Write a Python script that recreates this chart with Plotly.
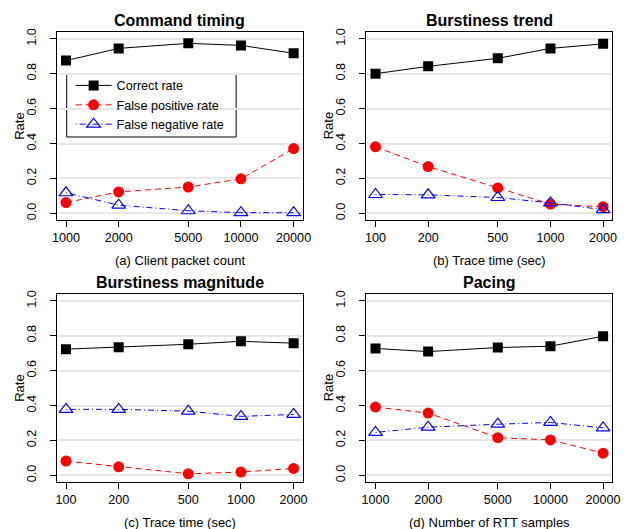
import plotly.graph_objects as go
import math

# ---- data ----
x_a = [1000, 2000, 5000, 10000, 20000]
a_correct = [0.875, 0.945, 0.974, 0.962, 0.917]
a_fp = [0.062, 0.123, 0.151, 0.198, 0.371]
a_fn = [0.118, 0.047, 0.015, 0.004, 0.004]

x_b = [100, 200, 500, 1000, 2000]
b_correct = [0.800, 0.842, 0.888, 0.945, 0.971]
b_fp = [0.381, 0.268, 0.146, 0.053, 0.038]
b_fn = [0.108, 0.106, 0.091, 0.060, 0.021]

x_c = [100, 200, 500, 1000, 2000]
c_correct = [0.723, 0.734, 0.751, 0.768, 0.757]
c_fp = [0.082, 0.049, 0.009, 0.019, 0.040]
c_fn = [0.378, 0.378, 0.368, 0.338, 0.349]

x_d = [1000, 2000, 5000, 10000, 20000]
d_correct = [0.727, 0.709, 0.732, 0.740, 0.797]
d_fp = [0.391, 0.357, 0.216, 0.203, 0.127]
d_fn = [0.246, 0.276, 0.293, 0.303, 0.272]

titles = ["Command timing", "Burstiness trend", "Burstiness magnitude", "Pacing"]
xlabels = ["(a) Client packet count", "(b) Trace time (sec)",
           "(c) Trace time (sec)", "(d) Number of RTT samples"]
series_names = ["Correct rate", "False positive rate", "False negative rate"]

panels = [
    (x_a, a_correct, a_fp, a_fn),
    (x_b, b_correct, b_fp, b_fn),
    (x_c, c_correct, c_fp, c_fn),
    (x_d, d_correct, d_fp, d_fn),
]

W, H = 631, 529
boxes = [  # left, right, top, bottom in pixels
    (53, 304, 28, 218),
    (369, 620, 28, 218),
    (53, 304, 292, 482),
    (369, 620, 292, 482),
]

font_fam = "Liberation Sans, Arial, sans-serif"
fig = go.Figure()
layout = {}
annotations = []

for i, ((xs, cor, fp, fn), (l, r, t, b)) in enumerate(zip(panels, boxes)):
    n = i + 1
    xa = "x" if n == 1 else f"x{n}"
    ya = "y" if n == 1 else f"y{n}"
    show = (n == 1)
    fig.add_trace(go.Scatter(x=xs, y=cor, xaxis=xa, yaxis=ya, name=series_names[0],
                             mode="lines+markers", showlegend=show,
                             line=dict(color="black", width=1),
                             marker=dict(symbol="square", size=10, color="black")))
    fig.add_trace(go.Scatter(x=xs, y=fp, xaxis=xa, yaxis=ya, name=series_names[1],
                             mode="lines+markers", showlegend=show,
                             line=dict(color="#ff0000", width=1, dash="6px,4px"),
                             marker=dict(symbol="circle", size=11, color="#ff0000")))
    fig.add_trace(go.Scatter(x=xs, y=fn, xaxis=xa, yaxis=ya, name=series_names[2],
                             mode="lines+markers", showlegend=show,
                             line=dict(color="#0000ff", width=1, dash="1px,3px,6px,3px"),
                             marker=dict(symbol="triangle-up-open", size=12,
                                         color="#0000ff", line=dict(width=1.2))))
    lo, hi = math.log10(min(xs)), math.log10(max(xs))
    ext = (hi - lo) * 0.04
    key = "" if n == 1 else str(n)
    layout[f"xaxis{key}"] = dict(
        type="log", domain=[l / W, r / W], range=[lo - ext, hi + ext],
        anchor=ya, tickvals=xs, ticktext=[str(v) for v in xs],
        showline=True, linecolor="black", linewidth=1, mirror=True,
        ticks="outside", ticklen=6, tickcolor="black", showgrid=False, zeroline=False,
        tickfont=dict(size=12.6, color="black", family=font_fam))
    layout[f"yaxis{key}"] = dict(
        domain=[1 - b / H, 1 - t / H], range=[-0.04, 1.04], anchor=xa,
        tickvals=[0, 0.2, 0.4, 0.6, 0.8, 1.0],
        ticktext=["0.0", "0.2", "0.4", "0.6", "0.8", "1.0"],
        tickangle=-90, showline=True, linecolor="black", linewidth=1, mirror=True,
        ticks="outside", ticklen=6, tickcolor="black", ticklabelstandoff=9,
        showgrid=True, gridcolor="#e8e8e8", gridwidth=1.5, zeroline=False,
        tickfont=dict(size=12.6, color="black", family=font_fam))
    cx = (l + r) / 2 / W
    annotations.append(dict(text=f"<b>{titles[i]}</b>", x=cx, y=1 - (t - 11) / H,
                            xref="paper", yref="paper", showarrow=False,
                            xanchor="center", yanchor="middle",
                            font=dict(size=16, color="black", family=font_fam)))
    annotations.append(dict(text=xlabels[i], x=cx, y=1 - (b + 40) / H,
                            xref="paper", yref="paper", showarrow=False,
                            xanchor="center", yanchor="middle",
                            font=dict(size=13, color="black", family=font_fam)))
    annotations.append(dict(text="Rate", x=(l - 39) / W, y=1 - (t + b) / 2 / H,
                            xref="paper", yref="paper", showarrow=False, textangle=-90,
                            xanchor="center", yanchor="middle",
                            font=dict(size=13, color="black", family=font_fam)))

legend_box = dict(type="rect", xref="paper", yref="paper",
                  x0=63 / W, x1=236 / W, y0=1 - 134 / H, y1=1 - 71 / H,
                  line=dict(color="black", width=1), fillcolor="white", layer="below")

fig.update_layout(
    width=W, height=H, margin=dict(l=0, r=0, t=0, b=0),
    paper_bgcolor="white", plot_bgcolor="rgba(0,0,0,0)",
    annotations=annotations,
    shapes=[legend_box],
    legend=dict(x=67 / W, y=1 - 102 / H, xanchor="left", yanchor="middle",
                borderwidth=0, bgcolor="rgba(0,0,0,0)",
                font=dict(size=12.6, color="black", family=font_fam),
                tracegroupgap=0, itemwidth=36),
    **layout)

fig.write_html("out.html")
